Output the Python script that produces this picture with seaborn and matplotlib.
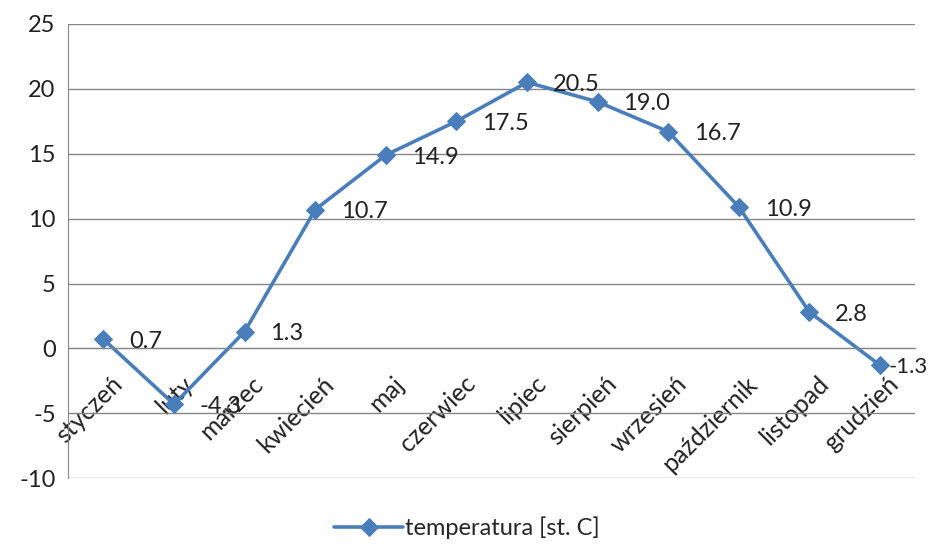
import matplotlib
matplotlib.use("Agg")
import matplotlib.pyplot as plt
import matplotlib.transforms as mtransforms
import seaborn as sns
import pandas as pd

# ---------------------------------------------------------
#                 DATA
# ---------------------------------------------------------

months = ["styczeń", "luty", "marzec", "kwiecień", "maj", "czerwiec",
          "lipiec", "sierpień", "wrzesień", "październik", "listopad", "grudzień"]
temps = [0.7, -4.3, 1.3, 10.7, 14.9, 17.5, 20.5, 19.0, 16.7, 10.9, 2.8, -1.3]
series_name = "temperatura [st. C]"

df = pd.DataFrame({"month": months, "temp": temps})
df["pos"] = range(len(df))

# ---------------------------------------------------------
#                 STYLE
# ---------------------------------------------------------

sns.set_style("white")
plt.rcParams["font.family"] = ["Lato", "DejaVu Sans"]
plt.rcParams["axes.unicode_minus"] = False
blue = "#4A7EBB"
grid_col = "#868686"
txt_col = "#222222"
fs = 17

fig = plt.figure(figsize=(9.34, 5.44), dpi=100)
ax = fig.add_axes([0.073, 0.121, 0.907, 0.835])

sns.lineplot(data=df, x="pos", y="temp", ax=ax, color=blue, linewidth=2.6,
             marker="D", markersize=9, markeredgecolor=blue,
             label=series_name, legend=False)

# data labels to the right of each point (last one pulled in to fit)
last = len(df) - 1
for i, (x, y) in enumerate(zip(df["pos"], df["temp"])):
    dx = 6.5 if i == last else 18.5
    size = fs - 1 if i == last else fs
    ax.annotate(f"{y:.1f}", (x, y), xytext=(dx, -1.5), textcoords="offset points",
                ha="left", va="center", fontsize=size, color=txt_col)

# ---------------------------------------------------------
#                 AXES
# ---------------------------------------------------------

ax.set_xlim(-0.5, len(months) - 0.5)
ax.set_ylim(-10, 25)
ax.set_yticks(range(-10, 26, 5))
ax.yaxis.grid(True, color=grid_col, linewidth=1)
ax.set_axisbelow(True)

for s in ["top", "right"]:
    ax.spines[s].set_visible(False)
ax.spines["left"].set_color(grid_col)
ax.spines["bottom"].set_color(grid_col)
ax.spines["bottom"].set_position(("data", 0))

ax.set_xticks(df["pos"])
ax.set_xticklabels(months, rotation=45, ha="right", va="top",
                   rotation_mode="anchor", fontsize=18, color=txt_col)
ax.set_xticks([p - 0.5 for p in range(len(months) + 1)], minor=True)
ax.tick_params(axis="x", which="major", length=0, pad=17)
ax.tick_params(axis="x", which="minor", length=6, color=grid_col, direction="out")
ax.tick_params(axis="y", length=5, color=grid_col, direction="out",
               labelsize=fs, labelcolor=txt_col, pad=4)

offset = mtransforms.ScaledTranslation(5 / 72, 0, fig.dpi_scale_trans)
for lab in ax.get_xticklabels():
    lab.set_transform(lab.get_transform() + offset)

ax.set_xlabel("")
ax.set_ylabel("")

# legend at bottom
handles, labels = ax.get_legend_handles_labels()
fig.legend(handles, labels, loc="lower center", bbox_to_anchor=(0.5, -0.03),
           frameon=False, fontsize=fs, handlelength=2.9, handletextpad=0.1)

fig.savefig("out.png", dpi=100)
